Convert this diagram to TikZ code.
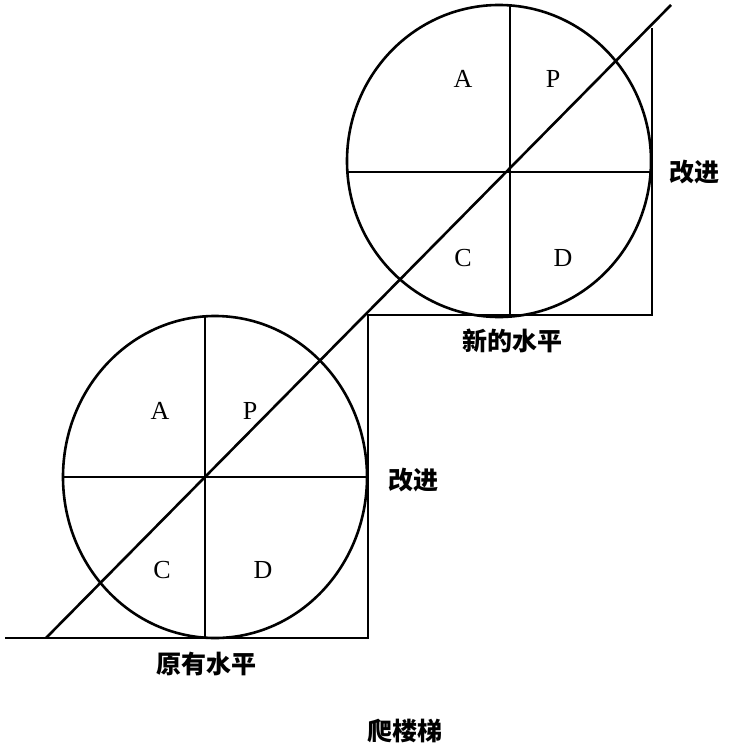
\documentclass[tikz,border=0pt]{standalone}
\usepackage{fontspec}
\setmainfont{Liberation Serif}
\newfontfamily\cjk{Noto Sans CJK SC}
\usetikzlibrary{positioning}

\tikzset{
	quad/.style={font=\fontsize{26}{30}\selectfont, inner sep=0pt},
	cjklabel/.style={font=\cjk\bfseries\fontsize{25}{30}\selectfont, inner sep=0pt}
}

\begin{document}
\begin{tikzpicture}[x=1pt, y=-1pt, line width=2.6pt]
	\useasboundingbox (0,0) rectangle (738,749);

	% lower PDCA wheel
	\begin{scope}[shift={(205,477)}]
		\draw (10,0) ellipse [x radius=152, y radius=161];
		\draw (-142,0) -- (162,0);
		\draw (0,-162) -- (0,161);
		\node[quad] (lowA) at (-45,-66) {A};
		\node[quad] (lowP) at (45,-66) {P};
		\node[quad] (lowC) at (-43,93) {C};
		\node[quad] (lowD) at (58,93) {D};
	\end{scope}

	% upper PDCA wheel
	\begin{scope}[shift={(510,172)}]
		\draw (-11,-11) ellipse [x radius=152, y radius=156];
		\draw (-163,0) -- (141,0);
		\draw (0,-167) -- (0,143);
		\node[quad] (upA) at (-47,-93) {A};
		\node[quad] (upP) at (43,-93) {P};
		\node[quad] (upC) at (-47,86) {C};
		\node[quad] (upD) at (53,86) {D};
	\end{scope}

	% the stairs
	\coordinate (s0) at (5,638);
	\coordinate (s1) at (368,638);
	\coordinate (s2) at (368,315);
	\coordinate (s3) at (652,315);
	\coordinate (s4) at (652,28);
	\draw (s0) -- (s1) -- (s2) -- (s3) -- (s4);

	% rising line
	\coordinate (r0) at (46,638);
	\coordinate (r1) at (671,5);
	\draw (r0) -- (r1);

	\node[cjklabel] (impLow) at (413,480) {改进};
	\node[cjklabel] (impUp) at (694,172) {改进};
	\node[cjklabel] (oldLevel) at (206,664) {原有水平};
	\node[cjklabel] (newLevel) at (512,341) {新的水平};
	\node[cjklabel] (title) at (405,731) {爬楼梯};
\end{tikzpicture}
\end{document}
